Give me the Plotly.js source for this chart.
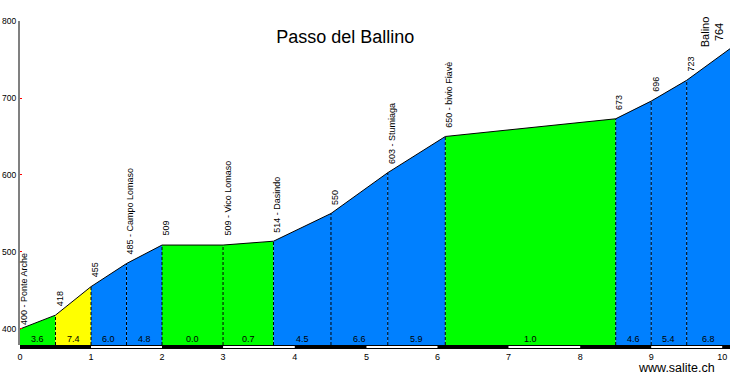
<!DOCTYPE html>
<html>
<head>
<meta charset="utf-8">
<script src="https://cdn.plot.ly/plotly-3.0.1.min.js"></script>
<style>html,body{margin:0;padding:0;background:#fff}#chart{width:730px;height:376px}</style>
</head>
<body>
<div id="chart"></div>
<script>
// distance along the climb (chart km units) and elevation (m)
const dist = [0, 0.5, 1.0, 1.5, 2.0, 2.86, 3.57, 4.38, 5.18, 5.99, 8.39, 8.89, 9.39, 10.0];
const elev = [400, 418, 455, 485, 509, 509, 514, 550, 603, 650, 673, 696, 723, 764];
const pointLabels = ["400 - Ponte Arche", "418", "455", "485 - Campo Lomaso", "509", "509 - Vico Lomaso",
  "514 - Dasindo", "550", "603 - Stumiaga", "650 - bivio Fiavè", "673", "696", "723"];
const summitName = "Balino";
const grades = ["3.6", "7.4", "6.0", "4.8", "0.0", "0.7", "4.5", "6.6", "5.9", "1.0", "4.6", "5.4", "6.8"];
const kmTickPos = [0, 1, 2, 2.86, 3.87, 4.88, 5.88, 6.88, 7.89, 8.89, 9.89];
const kmTickText = ["0", "1", "2", "3", "4", "5", "6", "7", "8", "9", "10"];
const yTicks = [400, 500, 600, 700, 800];

const FONT = "Liberation Sans, Arial, sans-serif";
const yMin = 379.2, yMax = 800;
function gradeColor(g) {
  const v = parseFloat(g);
  if (v < 4) return "#00ff00";
  if (v < 7) return "#0080ff";
  return "#ffff00";
}

const traces = [];
// coloured segments
for (let i = 0; i < grades.length; i++) {
  traces.push({
    x: [dist[i], dist[i + 1]], y: [elev[i], elev[i + 1]],
    type: "scatter", mode: "lines", fill: "tozeroy",
    fillcolor: gradeColor(grades[i]), line: {width: 0, color: gradeColor(grades[i])},
    hoverinfo: "skip", showlegend: false
  });
}
// dashed separators
for (let i = 1; i < dist.length - 1; i++) {
  traces.push({
    x: [dist[i], dist[i]], y: [yMin, elev[i]],
    type: "scatter", mode: "lines",
    line: {width: 1, color: "#000", dash: "3px,2px"},
    hoverinfo: "skip", showlegend: false
  });
}
// profile line
traces.push({
  x: dist, y: elev, type: "scatter", mode: "lines",
  line: {width: 1, color: "#000"}, hoverinfo: "skip", showlegend: false
});

const annotations = [];
for (let i = 0; i < pointLabels.length; i++) {
  annotations.push({
    x: dist[i], y: elev[i], xref: "x", yref: "y", text: pointLabels[i],
    showarrow: false, textangle: -90, xanchor: "center", yanchor: "bottom",
    xshift: 4, yshift: i === 0 ? 2 : 7,
    font: {family: FONT, size: 9, color: "#000"}
  });
}
annotations.push({
  x: dist[dist.length - 1], y: elev[elev.length - 1], xref: "x", yref: "y",
  text: summitName + "<br>" + elev[elev.length - 1],
  showarrow: false, textangle: -90, xanchor: "center", yanchor: "bottom",
  xshift: -18, yshift: -1,
  font: {family: FONT, size: 11, color: "#000"}
});
for (let i = 0; i < grades.length; i++) {
  annotations.push({
    x: (dist[i] + dist[i + 1]) / 2, y: 0.0185, xref: "x", yref: "paper",
    text: grades[i], showarrow: false, xanchor: "center", yanchor: "middle",
    font: {family: FONT, size: 9, color: "#000"}
  });
}
annotations.push({
  x: 0.924, y: -0.071, xref: "paper", yref: "paper", text: "www.salite.ch",
  showarrow: false, xanchor: "center", yanchor: "middle",
  font: {family: FONT, size: 12.5, color: "#000"}
});

// km scale bar below the plot
const shapes = [{
  type: "rect", xref: "x", yref: "paper", x0: 0, x1: dist[dist.length - 1],
  y0: -0.0123, y1: 0, fillcolor: "#000", line: {width: 0}, layer: "above"
}];
for (let k = 1; k < kmTickPos.length - 1; k += 2) {
  shapes.push({
    type: "rect", xref: "x", yref: "paper", x0: kmTickPos[k], x1: kmTickPos[k + 1],
    y0: -0.0093, y1: -0.0031, fillcolor: "#fff", line: {width: 0}, layer: "above"
  });
}

const layout = {
  width: 730, height: 376,
  margin: {l: 20, r: 0, t: 21, b: 31},
  paper_bgcolor: "#fff", plot_bgcolor: "#fff",
  title: {text: "Passo del Ballino", x: 0.473, xanchor: "center", y: 0.902, yanchor: "middle",
    font: {family: FONT, size: 18, color: "#000"}},
  xaxis: {range: [0, 10.0], showgrid: false, zeroline: false, showline: false,
    tickmode: "array", tickvals: kmTickPos, ticktext: kmTickText, ticks: "",
    tickfont: {family: FONT, size: 9, color: "#000"}, ticklabelstandoff: 5},
  yaxis: {range: [yMin, yMax], showgrid: false, zeroline: false, showline: true,
    linecolor: "#808080", linewidth: 2, tickmode: "array", tickvals: yTicks,
    ticks: "inside", ticklen: 2, tickcolor: "#ff0000", tickwidth: 1,
    tickfont: {family: FONT, size: 8.5, color: "#000"}},
  annotations: annotations, shapes: shapes, showlegend: false
};
Plotly.newPlot("chart", traces, layout, {staticPlot: true});
</script>
</body>
</html>
